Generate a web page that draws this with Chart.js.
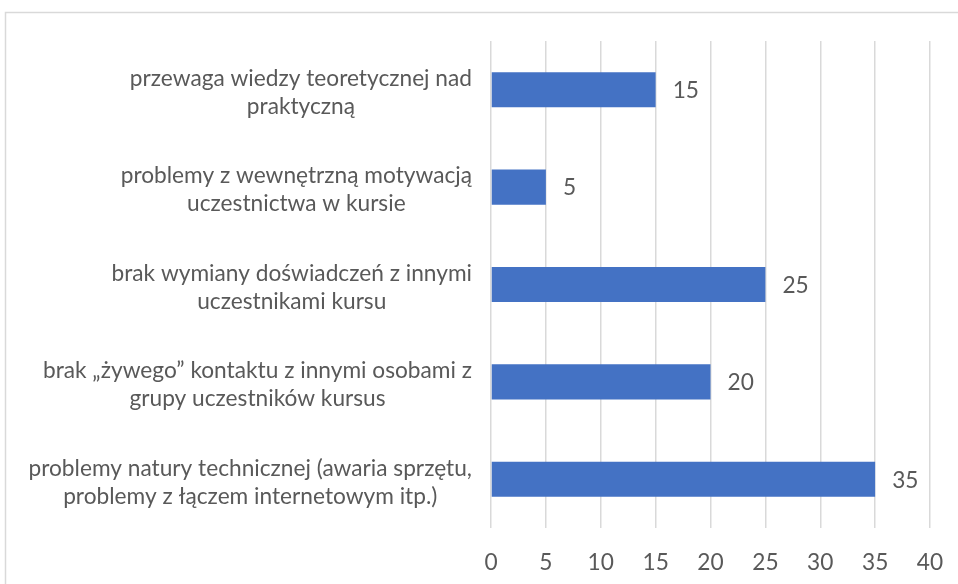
<!DOCTYPE html>
<html>
<head>
<meta charset="utf-8">
<script src="https://cdn.jsdelivr.net/npm/chart.js@4"></script>
<style>
  html, body { margin: 0; padding: 0; background: #fff; }
  #wrap { width: 958px; height: 584px; position: relative; }
</style>
</head>
<body>
<div id="wrap"><canvas id="myChart" width="958" height="584"></canvas></div>
<script>
// dane
const kategorie = [
  ['przewaga wiedzy teoretycznej nad', 'praktyczną'],
  ['problemy z wewnętrzną motywacją', 'uczestnictwa w kursie'],
  ['brak wymiany doświadczeń z innymi', 'uczestnikami kursu'],
  ['brak \u201eżywego\u201d kontaktu z innymi osobami z', 'grupy uczestników kursus'],
  ['problemy natury technicznej (awaria sprzętu,', 'problemy z łączem internetowym itp.)']
];
const wartosci = [15, 5, 25, 20, 35];
const osX = { min: 0, max: 40, krok: 5 };

const FONT = 'Lato, "Open Sans", sans-serif';
const SZARY = '#595959';
const ROZMIAR = 22.7;

// ramka, etykiety kategorii i wartosci
const dodatki = {
  id: 'dodatki',
  beforeDraw(chart) {
    const ctx = chart.ctx;
    ctx.save();
    ctx.strokeStyle = '#d9d9d9';
    ctx.lineWidth = 1.5;
    ctx.strokeRect(5.5, 12.5, 1200, 1200);
    ctx.restore();
  },
  afterDatasetsDraw(chart) {
    const ctx = chart.ctx;
    const y = chart.scales.y;
    const x = chart.scales.x;
    ctx.save();
    ctx.font = ROZMIAR + 'px ' + FONT;
    ctx.fillStyle = SZARY;
    ctx.textBaseline = 'middle';
    const prawo = chart.chartArea.left - 19;
    kategorie.forEach((linie, i) => {
      const yc = y.getPixelForValue(i) + 3;
      const szer = Math.max(...linie.map(l => ctx.measureText(l).width));
      const srodek = prawo - szer / 2;
      ctx.textAlign = 'center';
      linie.forEach((l, j) => {
        ctx.fillText(l, srodek, yc + (j - (linie.length - 1) / 2) * 28);
      });
    });
    ctx.textAlign = 'left';
    const meta = chart.getDatasetMeta(0);
    meta.data.forEach((bar, i) => {
      ctx.fillText(String(wartosci[i]), x.getPixelForValue(wartosci[i]) + 17, bar.y + 1);
    });
    ctx.restore();
  }
};

const data = {
  labels: kategorie,
  datasets: [{
    data: wartosci,
    backgroundColor: '#4472c4',
    borderWidth: 0,
    barPercentage: 0.6,
    categoryPercentage: 0.6
  }]
};

const config = {
  type: 'bar',
  data: data,
  options: {
    indexAxis: 'y',
    responsive: false,
    animation: false,
    layout: { padding: { left: 0, top: 41, right: 28, bottom: 0 } },
    plugins: {
      legend: { display: false },
      tooltip: { enabled: false }
    },
    scales: {
      x: {
        min: osX.min,
        max: osX.max,
        ticks: { stepSize: osX.krok, color: SZARY, font: { family: FONT, size: ROZMIAR }, padding: 21 },
        grid: { color: '#d9d9d9', lineWidth: 1.5, drawTicks: false },
        border: { display: false },
        afterFit(s) { s.height = 56; s.paddingLeft = 0; s.paddingRight = 0; }
      },
      y: {
        ticks: { display: false },
        grid: { display: false },
        border: { display: false },
        afterFit(s) { s.width = 491; s.paddingTop = 0; s.paddingBottom = 0; }
      }
    }
  },
  plugins: [dodatki]
};

var myChart = new Chart(document.getElementById('myChart'), config);
</script>
</body>
</html>
